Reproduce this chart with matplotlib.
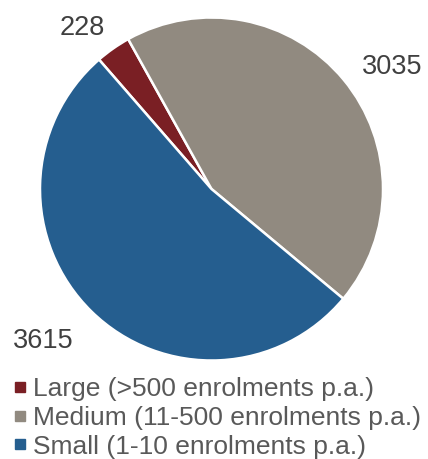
import numpy as np
import matplotlib.pyplot as plt
from matplotlib.lines import Line2D

plt.rcParams['font.family'] = ['Liberation Sans', 'DejaVu Sans']

# Providers by size of enrolment
categories = ["Large (>500 enrolments p.a.)",
              "Medium (11-500 enrolments p.a.)",
              "Small (1-10 enrolments p.a.)"]
counts = [228, 3035, 3615]
colors = ["#7a1f24", "#918a80", "#255e8f"]
# label placement: distance from centre (in radii) and angle nudge (deg)
label_dist = [1.22, 1.28, 1.31]
label_turn = [3.2, -5.0, -4.0]

W, H = 428, 459
fig = plt.figure(figsize=(W / 100, H / 100), dpi=100)

# pie centre and radius in pixels
cx, cy, R = 211.5, 189, 171.5
ax = fig.add_axes([(cx - R) / W, 1 - (cy + R) / H, 2 * R / W, 2 * R / H])

wedges, _ = ax.pie(counts, colors=colors, startangle=131, counterclock=False,
                   radius=1, wedgeprops=dict(edgecolor="white", linewidth=1.8))
ax.set_xlim(-1, 1)
ax.set_ylim(-1, 1)
ax.set_aspect("equal")
ax.axis("off")

# value labels outside each slice
for w, n, d, t in zip(wedges, counts, label_dist, label_turn):
    mid = np.deg2rad((w.theta1 + w.theta2) / 2 + t)
    ax.text(d * np.cos(mid), d * np.sin(mid), str(n), ha="center",
            va="center_baseline", fontsize=19.5, color="#404040",
            clip_on=False)

handles = [Line2D([], [], marker="s", linestyle="none", markersize=6.5,
                  markerfacecolor=c, markeredgecolor=c) for c in colors]
fig.legend(handles, categories, loc="upper left",
           bbox_to_anchor=(0 / W, 1 - 364 / H), frameon=False,
           fontsize=19, labelcolor="#595959", handlelength=0.55,
           handletextpad=0.2, labelspacing=0.18, borderpad=0)

fig.savefig("out.png", dpi=100)
